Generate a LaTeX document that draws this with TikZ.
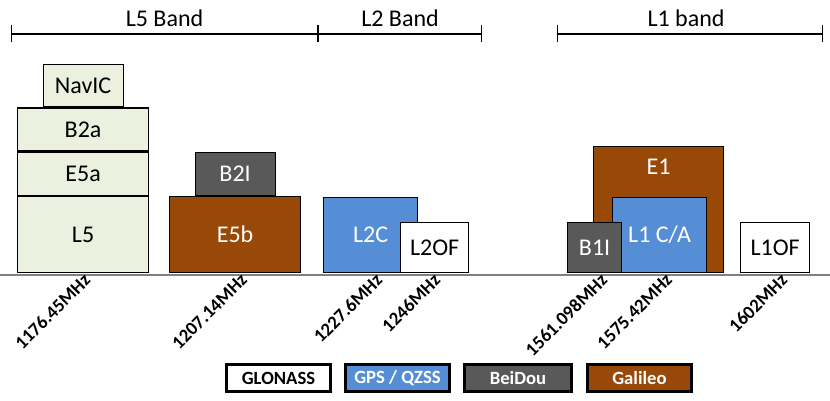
\documentclass[tikz,border=0pt]{standalone}
\usepackage{fontspec}
\setmainfont{Carlito}
\usepackage{xcolor}
\usetikzlibrary{positioning, arrows.meta}

\definecolor{navbeige}{HTML}{EBF1DE}
\definecolor{galbrown}{HTML}{984807}
\definecolor{gpsblue}{HTML}{558ED5}
\definecolor{beigray}{HTML}{595959}
\definecolor{axisgray}{HTML}{808080}

\begin{document}
\begin{tikzpicture}[
    x=1pt, y=-1pt,
    sigbox/.style={draw=black, line width=1.2pt, inner sep=0pt,
        font=\fontsize{24}{28}\selectfont},
    beigebox/.style={sigbox, fill=navbeige, text=black},
    galbox/.style={sigbox, fill=galbrown, text=white},
    gpsbox/.style={sigbox, fill=gpsblue, text=white},
    bdsbox/.style={sigbox, fill=beigray, text=white},
    globox/.style={sigbox, fill=white, text=black},
    bandline/.style={line width=1.3pt, {Bar[width=17pt]}-{Bar[width=17pt]}},
    freq/.style={font=\fontsize{18.67}{20}\selectfont\bfseries, rotate=45,
        anchor=east, inner sep=0pt},
    legbox/.style={draw=black, line width=3pt, minimum width=104pt,
        minimum height=27pt, inner sep=0pt,
        font=\fontsize{18.67}{20}\selectfont\bfseries}
]
    \useasboundingbox (0,0) rectangle (830,401);

    % Band brackets
    \coordinate (l5a) at (11,34);
    \coordinate (l5b) at (318,34);
    \coordinate (l2b) at (482,34);
    \coordinate (l1a) at (557,34);
    \coordinate (l1b) at (823,34);
    \draw[bandline] (l5a) -- (l5b)
        node[midway, above=3pt, font=\fontsize{24}{28}\selectfont] {L5 Band};
    \draw[bandline] (l5b) -- (l2b)
        node[midway, above=3pt, font=\fontsize{24}{28}\selectfont] {L2 Band};
    \draw[bandline] (l1a) -- (l1b)
        node[midway, above=3pt, xshift=-4pt, font=\fontsize{24}{28}\selectfont] {L1 band};

    % Frequency axis
    \coordinate (axl) at (0,274.5);
    \coordinate (axr) at (830,274.5);
    \draw[axisgray, line width=2pt] (axl) -- (axr);

    % L5 band signals
    \node[beigebox, minimum width=131pt, minimum height=76pt, anchor=south west] (l5) at (17,273) {L5};
    \node[beigebox, minimum width=131pt, minimum height=43pt, above=0pt of l5] (e5a) {E5a};
    \node[beigebox, minimum width=131pt, minimum height=43pt, above=0pt of e5a] (b2a) {B2a};
    \node[beigebox, minimum width=80pt, minimum height=42pt, above=0pt of b2a] (navic) {NavIC};
    \node[galbox, minimum width=131pt, minimum height=76pt, anchor=south west] (e5b) at (169,273) {E5b};
    \node[bdsbox, minimum width=80pt, minimum height=43pt, above=0pt of e5b] (b2i) {B2I};

    % L2 band signals
    \node[gpsbox, minimum width=94pt, minimum height=75pt, anchor=south west] (l2c) at (323,273) {L2C};
    \node[globox, minimum width=68pt, minimum height=50pt, anchor=south west] (l2of) at (400,273) {L2OF};

    % L1 band signals
    \node[galbox, minimum width=130pt, minimum height=126pt, anchor=south west] (e1) at (593,273) {};
    \node[below=13pt of e1.north, inner sep=0pt, text=white,
        font=\fontsize{24}{28}\selectfont] (e1lab) {E1};
    \node[gpsbox, minimum width=94pt, minimum height=75pt, anchor=south west] (l1ca) at (612,273) {L1 C/A};
    \node[bdsbox, minimum width=54pt, minimum height=50pt, anchor=south west] (b1i) at (567,273) {B1I};
    \node[globox, minimum width=69pt, minimum height=50pt, anchor=south west] (l1of) at (740,273) {L1OF};

    % Carrier frequencies
    \foreach \xe/\fq [count=\i] in {87/1176.45, 244/1207.14, 379/1227.6, 437/1246,
                                   604/1561.098, 669/1575.42, 784/1602}
        \node[freq] (f\i) at (\xe,277) {\fq MHz};

    % Legend
    \node[legbox, fill=white, text=black] (leg1) at (278.5,378) {GLONASS};
    \node[legbox, fill=gpsblue, text=white, right=12pt of leg1] (leg2) {GPS / QZSS};
    \node[legbox, fill=beigray, text=white, minimum width=107pt, right=12pt of leg2] (leg3) {BeiDou};
    \node[legbox, fill=galbrown, text=white, right=13pt of leg3] (leg4) {Galileo};
\end{tikzpicture}
\end{document}
